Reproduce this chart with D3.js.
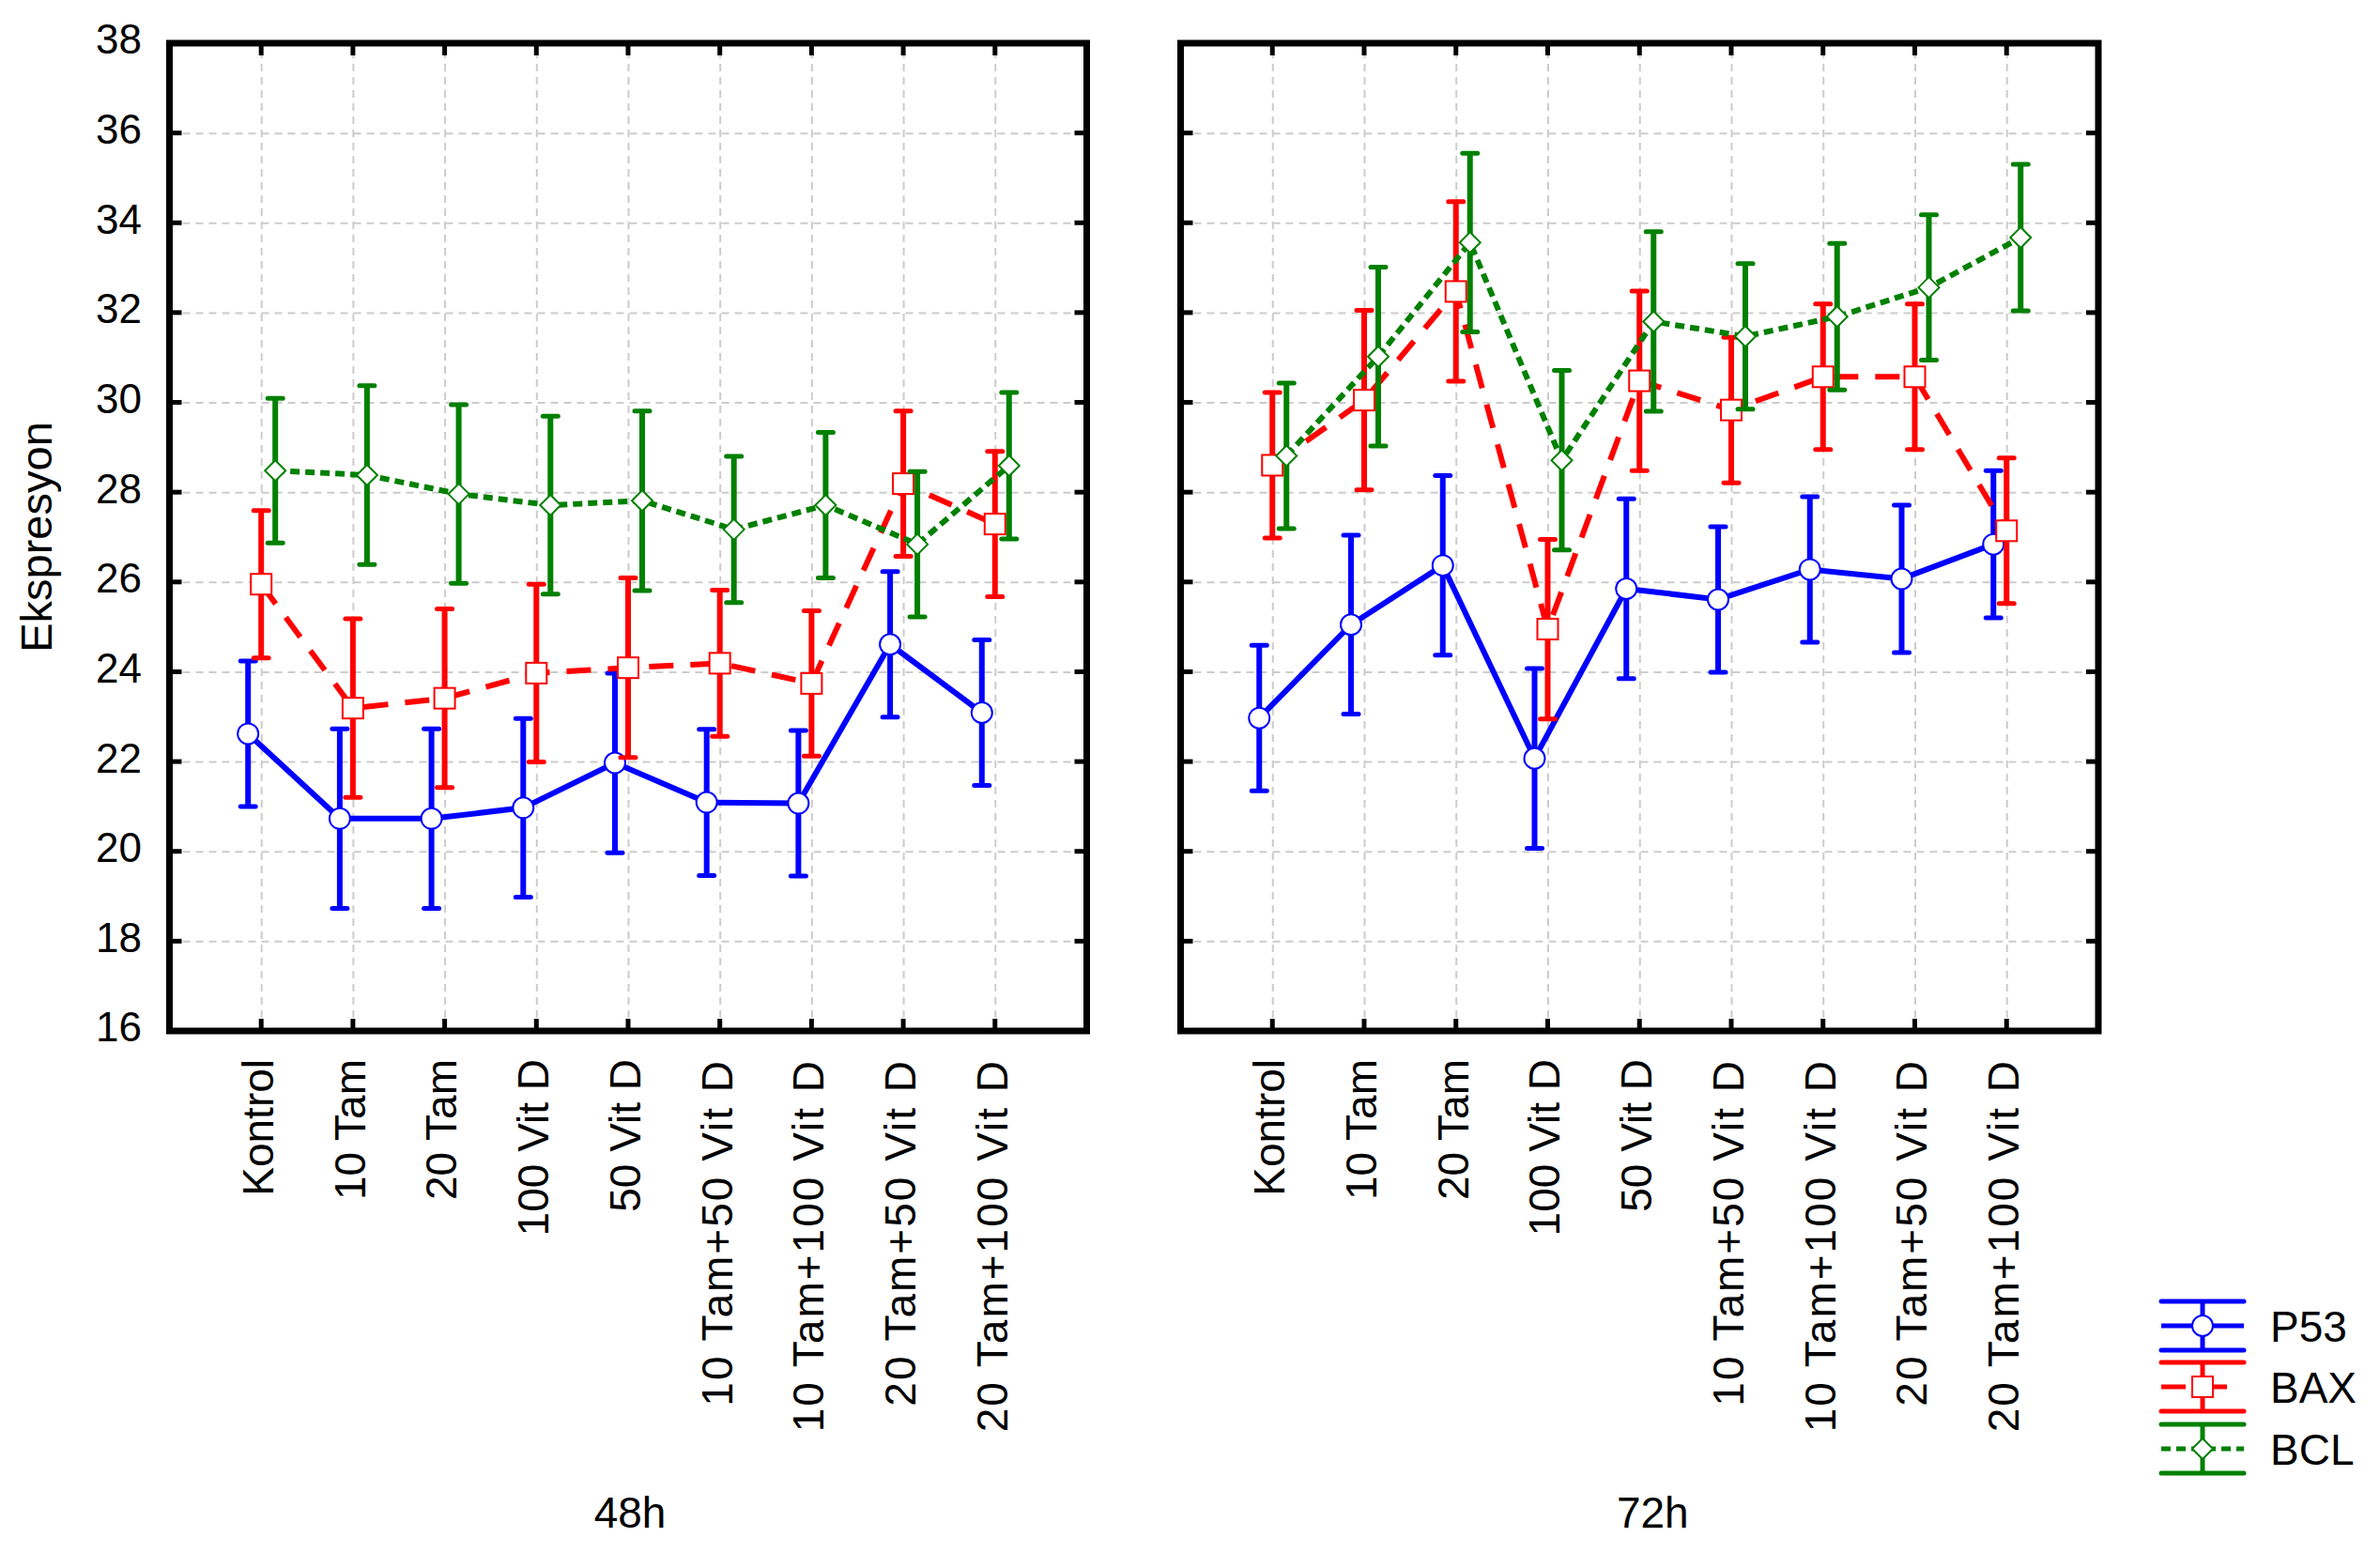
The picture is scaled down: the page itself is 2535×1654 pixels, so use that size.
<!DOCTYPE html>
<html>
<head>
<meta charset="utf-8">
<script src="https://cdn.jsdelivr.net/npm/d3@7"></script>
<style>
  body { margin: 0; background: #fff; }
  text { font-family: "Liberation Sans", Arial, sans-serif; fill: #000; }
</style>
</head>
<body>
<svg id="chart" width="2535" height="1654"></svg>
<script>
// categories (same for both panels)
var categories = ["Kontrol", "10 Tam", "20 Tam", "100 Vit D", "50 Vit D",
                  "10 Tam+50 Vit D", "10 Tam+100 Vit D", "20 Tam+50 Vit D", "20 Tam+100 Vit D"];
var panels = ["48h", "72h"];
var seriesNames = ["P53", "BAX", "BCL"];
var yTicks = [16, 18, 20, 22, 24, 26, 28, 30, 32, 34, 36, 38];

// means and error half-widths
var p53_48 = [22.62, 20.73, 20.73, 20.97, 21.97, 21.09, 21.07, 24.61, 23.09];
var p53_48_err = [1.62, 2.0, 2.0, 1.99, 2.0, 1.63, 1.62, 1.62, 1.62];
var bax_48 = [25.95, 23.19, 23.41, 23.97, 24.09, 24.19, 23.74, 28.19, 27.29];
var bax_48_err = [1.64, 1.99, 1.99, 1.98, 2.0, 1.63, 1.62, 1.62, 1.62];
var bcl_48 = [28.48, 28.38, 27.96, 27.71, 27.81, 27.17, 27.71, 26.84, 28.59];
var bcl_48_err = [1.61, 1.99, 1.99, 1.98, 2.0, 1.63, 1.62, 1.62, 1.63];

var p53_72 = [22.97, 25.05, 26.37, 22.07, 25.85, 25.61, 26.28, 26.07, 26.84];
var p53_72_err = [1.62, 1.99, 2.0, 2.0, 2.0, 1.62, 1.62, 1.64, 1.64];
var bax_72 = [28.60, 30.05, 32.47, 24.95, 30.48, 29.83, 30.57, 30.57, 27.14];
var bax_72_err = [1.62, 2.0, 2.0, 2.0, 2.0, 1.62, 1.62, 1.62, 1.62];
var bcl_72 = [28.81, 31.02, 33.56, 28.71, 31.80, 31.47, 31.91, 32.56, 33.67];
var bcl_72_err = [1.62, 1.99, 1.99, 2.0, 2.0, 1.62, 1.63, 1.62, 1.63];

var panelData = [
  [ {mean: p53_48, err: p53_48_err}, {mean: bax_48, err: bax_48_err}, {mean: bcl_48, err: bcl_48_err} ],
  [ {mean: p53_72, err: p53_72_err}, {mean: bax_72, err: bax_72_err}, {mean: bcl_72, err: bcl_72_err} ]
];

// styles per series
var styles = [
  {color: "#0000ff", dash: null,    marker: "circle", offset: -14},
  {color: "#ff0000", dash: "26,18", marker: "square", offset: 0},
  {color: "#008000", dash: "10,6",  marker: "diamond", offset: 15}
];

var svg = d3.select("#chart");
svg.append("rect").attr("width", 2535).attr("height", 1654).attr("fill", "#fff");

var plotTop = 46, plotBottom = 1098;
var panelX = [[180.5, 1157.5], [1257.5, 2235]];

var yScale = d3.scaleLinear().domain([16, 38]).range([plotBottom, plotTop]);

function drawMarker(g, type, x, y, color) {
  if (type === "circle") {
    g.append("circle").attr("cx", x).attr("cy", y).attr("r", 11)
      .attr("fill", "#fff").attr("stroke", color).attr("stroke-width", 2);
  } else if (type === "square") {
    g.append("rect").attr("x", x - 11).attr("y", y - 11).attr("width", 22).attr("height", 22)
      .attr("fill", "#fff").attr("stroke", color).attr("stroke-width", 2);
  } else {
    var r = 11;
    g.append("path")
      .attr("d", "M" + x + "," + (y - r) + "L" + (x + r) + "," + y + "L" + x + "," + (y + r) + "L" + (x - r) + "," + y + "Z")
      .attr("fill", "#fff").attr("stroke", color).attr("stroke-width", 2);
  }
}

panels.forEach(function(pname, pi) {
  var x0 = panelX[pi][0], x1 = panelX[pi][1];
  var xScale = d3.scalePoint().domain(categories).range([x0, x1]).padding(1);
  var g = svg.append("g");

  // grid
  g.append("g")
    .attr("transform", "translate(0," + plotBottom + ")")
    .call(d3.axisBottom(xScale).tickSize(-(plotBottom - plotTop)).tickFormat(""))
    .call(s => s.select(".domain").remove())
    .selectAll("line").attr("stroke", "#cccccc").attr("stroke-width", 2).attr("stroke-dasharray", "8,6");
  g.append("g")
    .attr("transform", "translate(" + x0 + ",0)")
    .call(d3.axisLeft(yScale).tickValues(yTicks.slice(1, -1)).tickSize(-(x1 - x0)).tickFormat(""))
    .call(s => s.select(".domain").remove())
    .selectAll("line").attr("stroke", "#cccccc").attr("stroke-width", 2).attr("stroke-dasharray", "8,6");

  // inner ticks on all four sides
  var tk = g.append("g").attr("stroke", "#000").attr("stroke-width", 5);
  yTicks.forEach(function(v) {
    tk.append("line").attr("x1", x0).attr("x2", x0 + 13).attr("y1", yScale(v)).attr("y2", yScale(v));
    tk.append("line").attr("x1", x1).attr("x2", x1 - 13).attr("y1", yScale(v)).attr("y2", yScale(v));
  });
  categories.forEach(function(c) {
    tk.append("line").attr("x1", xScale(c)).attr("x2", xScale(c)).attr("y1", plotTop).attr("y2", plotTop + 13);
    tk.append("line").attr("x1", xScale(c)).attr("x2", xScale(c)).attr("y1", plotBottom).attr("y2", plotBottom - 13);
  });

  // series
  panelData[pi].forEach(function(ser, si) {
    var st = styles[si];
    var pts = ser.mean.map(function(m, i) {
      return {x: xScale(categories[i]) + st.offset, m: m, e: ser.err[i]};
    });
    var sg = g.append("g");
    // error bars
    pts.forEach(function(p) {
      sg.append("line").attr("x1", p.x).attr("x2", p.x)
        .attr("y1", yScale(p.m - p.e)).attr("y2", yScale(p.m + p.e))
        .attr("stroke", st.color).attr("stroke-width", 6);
      [p.m - p.e, p.m + p.e].forEach(function(v) {
        sg.append("line").attr("x1", p.x - 8).attr("x2", p.x + 8)
          .attr("y1", yScale(v)).attr("y2", yScale(v))
          .attr("stroke", st.color).attr("stroke-width", 5).attr("stroke-linecap", "round");
      });
    });
    // line
    var line = d3.line().x(d => d.x).y(d => yScale(d.m));
    sg.append("path").datum(pts).attr("d", line)
      .attr("fill", "none").attr("stroke", st.color).attr("stroke-width", 6)
      .attr("stroke-dasharray", st.dash);
    // markers
    pts.forEach(function(p) { drawMarker(sg, st.marker, p.x, yScale(p.m), st.color); });
  });

  // frame
  g.append("rect").attr("x", x0).attr("y", plotTop).attr("width", x1 - x0).attr("height", plotBottom - plotTop)
    .attr("fill", "none").attr("stroke", "#000").attr("stroke-width", 7);

  // category labels
  categories.forEach(function(c) {
    g.append("text")
      .attr("transform", "translate(" + xScale(c) + ",1128) rotate(-90)")
      .attr("text-anchor", "end").attr("dy", "0.28em")
      .attr("letter-spacing", c.indexOf("+") >= 0 ? 2 : 0)
      .attr("font-size", 46).text(c);
  });

  // panel title
  g.append("text").attr("x", (x0 + x1) / 2 + (pi === 1 ? 14 : 2)).attr("y", 1627)
    .attr("text-anchor", "middle").attr("font-size", 46).text(pname);

  // y axis labels on first panel
  if (pi === 0) {
    yTicks.forEach(function(v) {
      g.append("text").attr("x", 151).attr("y", yScale(v)).attr("dy", "0.26em")
        .attr("text-anchor", "end").attr("font-size", 44).text(v);
    });
  }
});

// y title
svg.append("text").attr("transform", "translate(55,572) rotate(-90)")
  .attr("text-anchor", "middle").attr("font-size", 47).text("Ekspresyon");

// legend
var legY = [1412, 1477, 1543];
seriesNames.forEach(function(name, i) {
  var st = styles[i];
  var lg = svg.append("g").attr("transform", "translate(2346," + legY[i] + ")");
  lg.append("line").attr("x1", -44).attr("x2", 44).attr("y1", -26).attr("y2", -26)
    .attr("stroke", st.color).attr("stroke-width", 5).attr("stroke-linecap", "round");
  lg.append("line").attr("x1", -44).attr("x2", 44).attr("y1", 26).attr("y2", 26)
    .attr("stroke", st.color).attr("stroke-width", 5).attr("stroke-linecap", "round");
  lg.append("line").attr("x1", 0).attr("x2", 0).attr("y1", -26).attr("y2", 26)
    .attr("stroke", st.color).attr("stroke-width", 5);
  lg.append("line").attr("x1", -44).attr("x2", 44).attr("y1", 0).attr("y2", 0)
    .attr("stroke", st.color).attr("stroke-width", 5).attr("stroke-dasharray", st.dash);
  drawMarker(lg, st.marker, 0, 0, st.color);
  svg.append("text").attr("x", 2418).attr("y", legY[i]).attr("dy", "0.36em")
    .attr("font-size", 46).text(name);
});
</script>
</body>
</html>
